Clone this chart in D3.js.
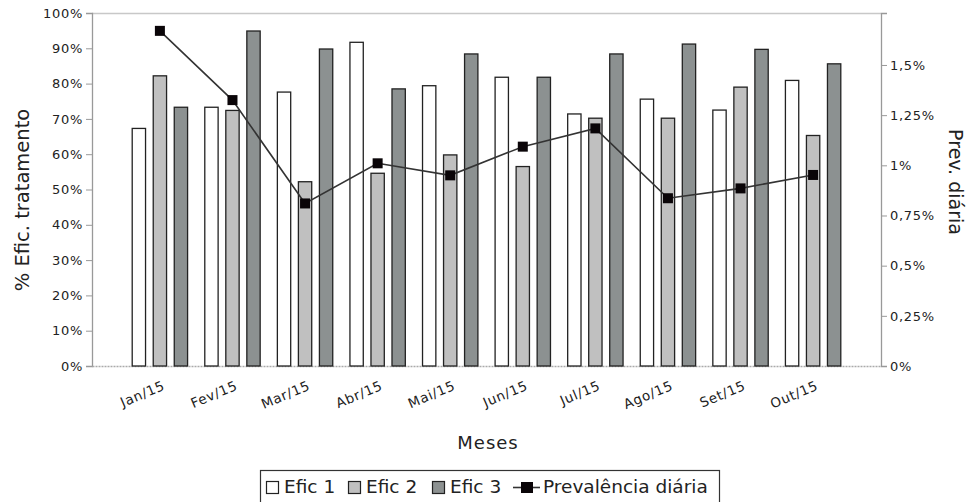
<!DOCTYPE html>
<html lang="pt">
<head>
    <meta charset="UTF-8">
    <title>Eficácia do tratamento e prevalência diária</title>
    <script src="https://d3js.org/d3.v7.min.js"></script>
    <style>
        body { margin: 0; background: #fff; }
        svg text { font-family: "DejaVu Sans", sans-serif; fill: #222; }
    </style>
</head>
<body>
<div id="chart"></div>
<script>
    // Data
    const months = ["Jan/15", "Fev/15", "Mar/15", "Abr/15", "Mai/15", "Jun/15", "Jul/15", "Ago/15", "Set/15", "Out/15"];
    const efic1 = [67.3, 73.3, 77.6, 91.7, 79.4, 81.8, 71.4, 75.6, 72.5, 80.9];
    const efic2 = [82.2, 72.4, 52.2, 54.6, 59.8, 56.5, 70.2, 70.2, 79.0, 65.3];
    const efic3 = [73.3, 94.9, 89.8, 78.5, 88.4, 81.8, 88.4, 91.2, 89.7, 85.6];
    const prevalencia = [1.67, 1.325, 0.81, 1.01, 0.95, 1.093, 1.184, 0.836, 0.885, 0.952];
    const seriesNames = ["Efic 1", "Efic 2", "Efic 3"];
    const seriesColors = ["#ffffff", "#c0c0c0", "#8c9191"];
    const leftTicks = d3.range(0, 101, 10);
    const rightTicks = [0, 0.25, 0.5, 0.75, 1, 1.25, 1.5];

    const W = 966, H = 502;
    const plot = {left: 92, right: 881, top: 13, bottom: 366};

    const svg = d3.select("#chart").append("svg")
        .attr("width", W).attr("height", H);

    const x = d3.scaleBand().domain(months)
        .range([plot.left, plot.right])
        .paddingInner(0.237).paddingOuter(0.554);
    const xSub = d3.scaleBand().domain(d3.range(3))
        .range([0, x.bandwidth()])
        .paddingInner(0.366);
    const yLeft = d3.scaleLinear().domain([0, 100]).range([plot.bottom, plot.top]);
    const yRight = d3.scaleLinear().domain([0, 1.759]).range([plot.bottom, plot.top]);

    // frame
    svg.append("line")
        .attr("x1", plot.left).attr("x2", plot.right)
        .attr("y1", plot.top + 0.5).attr("y2", plot.top + 0.5)
        .attr("stroke", "#c8c8c8").attr("stroke-width", 1.5);

    // left axis
    const leftAxis = svg.append("g")
        .attr("transform", `translate(${plot.left},0)`)
        .call(d3.axisLeft(yLeft).tickValues(leftTicks).tickSize(6).tickPadding(3)
            .tickFormat(d => d + "%"));
    leftAxis.select(".domain").attr("stroke", "#999").attr("stroke-width", 1.3);
    leftAxis.selectAll(".tick line").attr("stroke", "#999");
    leftAxis.selectAll("text").style("font-size", "13px").style("letter-spacing", "0.7px").attr("fill", "#222");

    // right axis
    const rightAxis = svg.append("g")
        .attr("transform", `translate(${plot.right},0)`)
        .call(d3.axisRight(yRight).tickValues(rightTicks).tickSize(6).tickPadding(3)
            .tickFormat(d => String(d).replace(".", ",") + "%"));
    rightAxis.select(".domain").attr("stroke", "#999").attr("stroke-width", 1.3);
    rightAxis.selectAll(".tick line").attr("stroke", "#999");
    rightAxis.selectAll("text").style("font-size", "13px").style("letter-spacing", "0.7px").attr("fill", "#222");

    // bottom axis
    const bottomAxis = svg.append("g")
        .attr("transform", `translate(0,${plot.bottom})`)
        .call(d3.axisBottom(x).tickSize(0).tickPadding(0));
    bottomAxis.select(".domain").attr("stroke", "#aaa").attr("stroke-dasharray", "2,1").attr("stroke-width", 1.3);
    bottomAxis.selectAll("text")
        .style("font-size", "13.5px")
        .style("letter-spacing", "0.7px")
        .attr("text-anchor", "end")
        .attr("dy", 0)
        .attr("transform", "translate(6,23) rotate(-23)");

    // bars
    const groups = svg.append("g").selectAll("g")
        .data(months)
        .join("g")
        .attr("transform", d => `translate(${x(d)},0)`);

    [efic1, efic2, efic3].forEach((vals, s) => {
        groups.append("rect")
            .attr("x", xSub(s))
            .attr("width", xSub.bandwidth())
            .attr("y", (d, i) => yLeft(vals[i]))
            .attr("height", (d, i) => plot.bottom - yLeft(vals[i]))
            .attr("fill", seriesColors[s])
            .attr("stroke", "#222")
            .attr("stroke-width", 1.3);
    });

    // prevalence line
    const cx = d => x(d) + x.bandwidth() / 2;
    const line = d3.line()
        .x((d, i) => cx(months[i]))
        .y(d => yRight(d));
    svg.append("path")
        .datum(prevalencia)
        .attr("d", line)
        .attr("fill", "none")
        .attr("stroke", "#333")
        .attr("stroke-width", 1.6);
    svg.append("g").selectAll("rect")
        .data(prevalencia)
        .join("rect")
        .attr("x", (d, i) => cx(months[i]) - 5)
        .attr("y", d => yRight(d) - 5)
        .attr("width", 10).attr("height", 10)
        .attr("fill", "#0a0508");

    // axis titles
    svg.append("text")
        .attr("x", 488).attr("y", 449)
        .attr("text-anchor", "middle")
        .style("font-size", "18px")
        .style("letter-spacing", "1px")
        .text("Meses");
    svg.append("text")
        .attr("transform", `translate(29,200) rotate(-90)`)
        .attr("text-anchor", "middle")
        .style("font-size", "19.5px")
        .text("% Efic. tratamento");
    svg.append("text")
        .attr("transform", `translate(949,182) rotate(90)`)
        .attr("text-anchor", "middle")
        .style("font-size", "19px")
        .text("Prev. diária");

    // legend
    const legend = svg.append("g");
    legend.append("rect")
        .attr("x", 260.5).attr("y", 470.5)
        .attr("width", 459).attr("height", 40)
        .attr("fill", "#fff").attr("stroke", "#333").attr("stroke-width", 1.2);
    const legendX = [266, 348, 432];
    seriesNames.forEach((name, s) => {
        legend.append("rect")
            .attr("x", legendX[s] + 0.5).attr("y", 481.5)
            .attr("width", 12).attr("height", 12)
            .attr("fill", seriesColors[s]).attr("stroke", "#222").attr("stroke-width", 1.2);
        legend.append("text")
            .attr("x", legendX[s] + 18).attr("y", 493)
            .style("font-size", "18.5px")
            .text(name);
    });
    legend.append("line")
        .attr("x1", 513).attr("x2", 540).attr("y1", 487.5).attr("y2", 487.5)
        .attr("stroke", "#333").attr("stroke-width", 1.6);
    legend.append("rect")
        .attr("x", 521).attr("y", 482).attr("width", 12).attr("height", 11)
        .attr("fill", "#0a0508");
    legend.append("text")
        .attr("x", 543).attr("y", 493)
        .style("font-size", "18.5px")
        .text("Prevalência diária");
</script>
</body>
</html>
